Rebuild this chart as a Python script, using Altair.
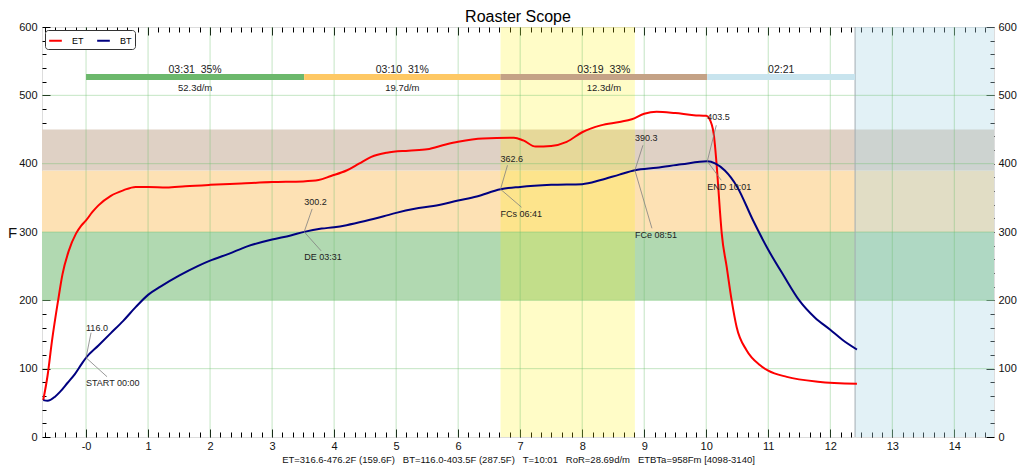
import altair as alt
import pandas as pd

# ---------------- data ----------------
bt_time = [-0.69, -0.62, -0.5, -0.42, -0.3, -0.18, -0.07, 0.0, 0.2, 0.4, 0.6, 0.8, 1.0, 1.2, 1.5,
           1.8, 2.0, 2.3, 2.6, 3.0, 3.3, 3.517, 3.8, 4.0, 4.2, 4.5, 4.8, 5.0, 5.3, 5.6, 6.0, 6.3,
           6.683, 7.0, 7.5, 8.0, 8.3, 8.6, 8.85, 9.2, 9.6, 10.017, 10.15, 10.3, 10.5, 10.75, 11.0,
           11.25, 11.5, 11.75, 12.0, 12.2, 12.43]
bt_temp = [54, 53, 59, 66, 79, 92, 107, 116.0, 134, 152, 170, 190, 208, 220, 236,
           250, 258, 268, 279, 289, 295, 300.2, 305, 307, 310, 316, 323, 328, 334, 338, 346, 352,
           362.6, 366, 369, 370, 376, 384, 390.3, 394, 399, 403.5, 400, 390, 366, 318, 274,
           236, 200, 175, 157, 142, 128]

et_time = [-0.69, -0.62, -0.55, -0.45, -0.38, -0.28, -0.16, -0.08, 0.0, 0.1, 0.2, 0.4, 0.6, 0.8,
           1.0, 1.3, 1.6, 2.0, 2.5, 3.0, 3.5, 3.75, 3.95, 4.2, 4.4, 4.6, 4.85, 5.2, 5.5, 5.8, 6.0,
           6.4, 6.9, 7.05, 7.25, 7.5, 7.75, 8.0, 8.3, 8.6, 8.8, 9.0, 9.2, 9.5, 9.8, 10.0, 10.05,
           10.12, 10.17, 10.22, 10.25, 10.33, 10.41, 10.49, 10.65, 10.87, 11.0, 11.3, 11.8, 12.43]
et_temp = [54, 90, 140, 200, 238, 272, 298, 309, 317, 329, 339, 353, 361, 366,
           366, 365, 367, 369, 371, 373, 374, 376, 382, 390, 400, 410, 416, 419, 421, 428, 432,
           437, 438, 434, 425, 426, 432, 446, 456, 461, 465, 473, 476, 474, 471, 470, 466,
           444, 396, 332, 298, 249, 200, 161, 127, 105, 97, 88, 81, 78]

event_names = ["START 00:00", "DE 03:31", "FCs 06:41", "FCe 08:51", "END 10:01"]
event_values = ["116.0", "300.2", "362.6", "390.3", "403.5"]
event_time = [0.0, 3.517, 6.683, 8.85, 10.017]
event_temp = [116.0, 300.2, 362.6, 390.3, 403.5]

NB = "\u00a0"
phase_start = [0.0, 3.517, 6.683, 10.017]
phase_end = [3.517, 6.683, 10.017, 12.4]
phase_top = ["03:31" + NB + NB + "35%", "03:10" + NB + NB + "31%", "03:19" + NB + NB + "33%", "02:21"]
phase_bottom = ["52.3d/m", "19.7d/m", "12.3d/m", ""]

band_low = [200, 300, 390]
band_high = [300, 390, 450]

fc_region = [6.683, 8.85]
cool_start = 12.4

minute_ticks = list(range(0, 15))
temp_ticks = list(range(0, 601, 100))
grid_temps = [100, 200, 300, 400, 500]

summary_parts = ["ET=316.6-476.2F (159.6F)", "BT=116.0-403.5F (287.5F)", "T=10:01",
                 "RoR=28.69d/m", "ETBTa=958Fm [4098-3140]"]
summary = (NB + NB + NB).join(summary_parts)

# ---------------- styles ----------------
W, H = 952, 410
XMIN, XMAX = -0.71, 14.64
YMIN, YMAX = 0, 600
PPM = W / (XMAX - XMIN)      # pixels per minute
PPD = H / (YMAX - YMIN)      # pixels per degree
FONT = "Liberation Sans"
band_colors = ["#b1d9b1", "#fde1b4", "#dfd1c5"]
phase_colors = ["#6cb86c", "#fec864", "#c4a286", "#c8e4ee"]
PHASE_Y = 527

# annotation pixel offsets: (up dx, up dy, value text dy, low dx, low dy, event text dy)
ann_offsets = [(5, -25, -30, 21, 19, 25),
               (8, -23, -30, 17, 19, 25),
               (7, -24, -30, 21, 18, 25),
               (8, -25, -32, 17, 58, 65),
               (9, -36, -44, 14, 19, 26)]

XS = alt.Scale(domain=[XMIN, XMAX], nice=False, zero=False)
YS = alt.Scale(domain=[YMIN, YMAX], nice=False, zero=False)

# ---------------- tables ----------------
curves = pd.concat([
    pd.DataFrame({"t": et_time, "T": et_temp, "s": "ET"}),
    pd.DataFrame({"t": bt_time, "T": bt_temp, "s": "BT"}),
])
bands = pd.DataFrame({"lo": band_low, "hi": band_high, "c": band_colors})
fc_df = pd.DataFrame({"a": [fc_region[0]], "b": [fc_region[1]]})
cool_df = pd.DataFrame({"a": [cool_start], "b": [XMAX]})
vgrid = pd.DataFrame({"t": minute_ticks})
hgrid = pd.DataFrame({"T": grid_temps})
phases = pd.DataFrame({
    "a": phase_start, "b": phase_end, "c": phase_colors,
    "m": [(s + e) / 2 for s, e in zip(phase_start, phase_end)],
    "top": phase_top, "bot": phase_bottom, "y": [PHASE_Y] * 4,
})

conn_rows, vtext_rows, etext_rows = [], [], []
for n, v, t, T, o in zip(event_names, event_values, event_time, event_temp, ann_offsets):
    udx, udy, vdy, ldx, ldy, edy = o
    conn_rows.append({"t": t, "T": T, "t2": t + udx / PPM, "T2": T - udy / PPD})
    conn_rows.append({"t": t, "T": T, "t2": t + ldx / PPM, "T2": T - ldy / PPD})
    vtext_rows.append({"t": t, "T": T - vdy / PPD, "label": v})
    etext_rows.append({"t": t, "T": T - edy / PPD, "label": n})
conns = pd.DataFrame(conn_rows)
vtexts = pd.DataFrame(vtext_rows)
etexts = pd.DataFrame(etext_rows)

# ---------------- layers ----------------
band_layer = alt.Chart(bands).mark_rect(opacity=1).encode(
    x=alt.value(0), x2=alt.value(W),
    y=alt.Y("lo:Q", scale=YS, axis=None), y2="hi:Q",
    color=alt.Color("c:N", scale=None))

fc_layer = alt.Chart(fc_df).mark_rect(color="#fff200", opacity=0.22).encode(
    x=alt.X("a:Q", scale=XS, axis=None), x2="b:Q",
    y=alt.value(0), y2=alt.value(H))

cool_layer = alt.Chart(cool_df).mark_rect(color="#add8e6", opacity=0.35).encode(
    x=alt.X("a:Q", scale=XS, axis=None), x2="b:Q",
    y=alt.value(0), y2=alt.value(H))

vgrid_layer = alt.Chart(vgrid).mark_rule(color="#6cbf6c", opacity=0.4, strokeWidth=1).encode(
    x=alt.X("t:Q", scale=XS, axis=None), y=alt.value(0), y2=alt.value(H))

hgrid_layer = alt.Chart(hgrid).mark_rule(color="#6cbf6c", opacity=0.4, strokeWidth=1).encode(
    y=alt.Y("T:Q", scale=YS, axis=None), x=alt.value(0), x2=alt.value(W))

cool_edge = alt.Chart(cool_df).mark_rule(color="#a3adb1", strokeWidth=1).encode(
    x=alt.X("a:Q", scale=XS, axis=None), y=alt.value(0), y2=alt.value(H))

phase_bars = alt.Chart(phases).mark_rule(strokeWidth=6, strokeCap="butt").encode(
    x=alt.X("a:Q", scale=XS, axis=None), x2="b:Q",
    y=alt.Y("y:Q", scale=YS, axis=None),
    color=alt.Color("c:N", scale=None))

phase_top_text = alt.Chart(phases).mark_text(
    font=FONT, fontSize=10.5, dy=-7, color="#222", baseline="middle").encode(
    x=alt.X("m:Q", scale=XS, axis=None), y=alt.Y("y:Q", scale=YS, axis=None), text="top:N")

phase_bot_text = alt.Chart(phases).mark_text(
    font=FONT, fontSize=9.5, dy=11, color="#222", baseline="middle").encode(
    x=alt.X("m:Q", scale=XS, axis=None), y=alt.Y("y:Q", scale=YS, axis=None), text="bot:N")

curve_layer = alt.Chart(curves).mark_line(strokeWidth=2, interpolate="monotone").encode(
    x=alt.X("t:Q", scale=XS, axis=None),
    y=alt.Y("T:Q", scale=YS, axis=None),
    color=alt.Color("s:N", scale=alt.Scale(domain=["ET", "BT"], range=["#ff0000", "#000080"]),
                    legend=alt.Legend(title=None, orient="top-left", direction="horizontal",
                                      offset=3, padding=3, strokeColor="#333", fillColor="white",
                                      cornerRadius=3, symbolType="stroke", symbolStrokeWidth=2,
                                      symbolSize=160, labelFontSize=9, labelFont=FONT,
                                      columnPadding=9, labelOffset=9)),
    detail="s:N")

conn_layer = alt.Chart(conns).mark_rule(color="#808080", strokeWidth=0.8).encode(
    x=alt.X("t:Q", scale=XS, axis=None), x2="t2:Q",
    y=alt.Y("T:Q", scale=YS, axis=None), y2="T2:Q")

vtext_layer = alt.Chart(vtexts).mark_text(
    font=FONT, fontSize=9, align="left", baseline="middle", color="#222").encode(
    x=alt.X("t:Q", scale=XS, axis=None), y=alt.Y("T:Q", scale=YS, axis=None), text="label:N")

etext_layer = alt.Chart(etexts).mark_text(
    font=FONT, fontSize=9, align="left", baseline="middle", color="#222").encode(
    x=alt.X("t:Q", scale=XS, axis=None), y=alt.Y("T:Q", scale=YS, axis=None), text="label:N")

# ---------------- axes (invisible holders) ----------------
x_minor = [i / 6 for i in range(-4, 88) if i % 6 != 0]
y_minor = [v for v in range(20, 600, 20) if v % 100 != 0]
dummy = pd.DataFrame({"t": [0], "T": [0]})

base_ax = dict(grid=False, domain=False, labelFlush=False, labelOverlap=False,
               tickColor="#000", tickWidth=1)


def tick_axis(orient, values, size):
    return alt.Axis(orient=orient, values=values, labels=False, tickSize=size, offset=-size,
                    title=None, **base_ax)


x_labels = alt.Axis(orient="bottom", values=minute_ticks, ticks=False, labelPadding=3,
                    labelFontSize=11, labelFont=FONT, labelColor="#111",
                    labelExpr="datum.value == 0 ? '-0' : datum.label",
                    title=summary, titleFontSize=9.5, titleFont=FONT, titleFontWeight="normal",
                    titleColor="#111", titlePadding=3, **base_ax)
y_left = alt.Axis(orient="left", values=temp_ticks, ticks=False, labelPadding=5,
                  labelFontSize=11, labelFont=FONT, labelColor="#111",
                  title="F", titleAngle=0, titleX=-30, titleY=H / 2, titleFontSize=15,
                  titleFont=FONT, titleFontWeight="normal", titleAlign="center",
                  titleBaseline="middle", titleColor="#111", **base_ax)
y_right = alt.Axis(orient="right", values=temp_ticks, ticks=False, labelPadding=4,
                   labelFontSize=11, labelFont=FONT, labelColor="#111", title=None, **base_ax)

axis_pairs = [
    (x_labels, y_left),
    (tick_axis("bottom", minute_ticks, 8), tick_axis("left", temp_ticks, 8)),
    (tick_axis("bottom", x_minor, 5), tick_axis("left", y_minor, 4)),
    (tick_axis("top", minute_ticks, 8), y_right),
    (tick_axis("top", x_minor, 5), tick_axis("right", temp_ticks, 8)),
    (None, tick_axis("right", y_minor, 4)),
]
holders = []
for ax, ay in axis_pairs:
    holders.append(alt.Chart(dummy).mark_point(opacity=0).encode(
        x=alt.X("t:Q", scale=XS, axis=ax), y=alt.Y("T:Q", scale=YS, axis=ay)))

chart = alt.layer(
    band_layer, fc_layer, cool_layer, vgrid_layer, hgrid_layer, cool_edge,
    phase_bars, phase_top_text, phase_bot_text, curve_layer, conn_layer,
    vtext_layer, etext_layer, *holders
).resolve_axis(x="independent", y="independent").properties(
    width=W, height=H,
    autosize=alt.AutoSizeParams(type="none"),
    padding={"left": 42, "top": 27, "right": 30, "bottom": 33},
    title=alt.TitleParams("Roaster Scope", fontSize=16, font=FONT, fontWeight="normal",
                          anchor="middle", offset=6, dy=10, color="#000"),
).configure_view(stroke="#000", strokeWidth=1).configure(background="white")

chart.save("out.html", embed_options={"renderer": "svg", "actions": False})
